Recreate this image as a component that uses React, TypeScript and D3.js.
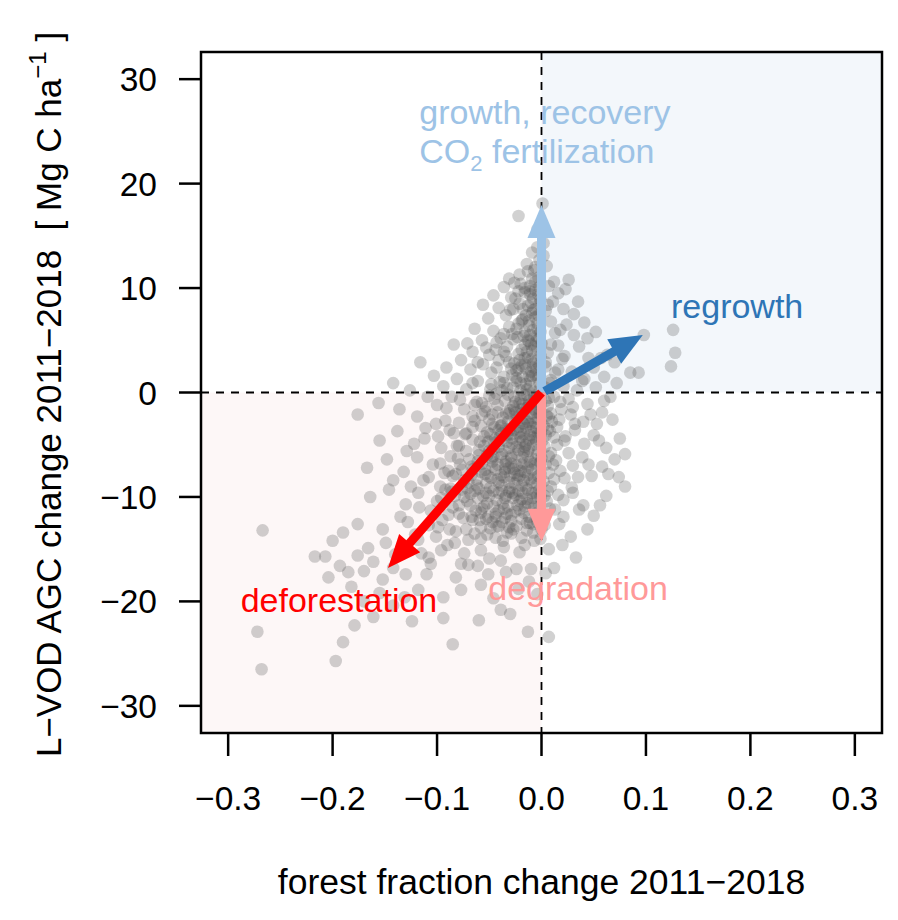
import React from "react";
import * as d3 from "d3";

// ---------- data (forest fraction change, AGC change) ----------
const plumeUpper: [number, number][] = [
  [-0.022,16.9],[0.001,18.1],[-0.004,15.6],[0.002,14.3],[-0.009,13.4],[-0.002,12.7],[0.005,12.1],[-0.013,11.6],[-0.021,11.3],[-0.031,10.9],[0.026,10.8],[-0.036,10.1],[-0.026,10.5],[-0.016,10.0],[-0.006,10.6],[0.007,10.2],[0.016,9.5],[-0.046,9.3],[-0.029,9.1],[-0.011,9.4],[-0.001,8.9],[0.011,8.7],[-0.056,8.4],[-0.041,8.1],[-0.021,8.5],[-0.008,7.9],[0.004,7.8],[0.021,8.0],[0.031,7.5],[-0.051,7.1],[-0.034,7.4],[-0.019,6.9],[-0.006,7.2],[0.009,6.8],[0.024,6.5],[0.041,6.7],[-0.064,6.1],[-0.046,5.9],[-0.031,6.3],[-0.016,5.8],[-0.004,6.1],[0.013,5.7],[0.031,5.5],[0.052,5.8],[-0.084,4.6],[-0.071,4.7],[-0.057,5.0],[-0.043,4.8],[-0.027,5.1],[-0.012,4.9],[0.0,4.7],[0.016,4.5],[0.036,4.4],[-0.066,3.9],[-0.05,3.6],[-0.036,3.9],[-0.022,3.7],[-0.009,4.0],[0.006,3.8],[0.022,3.5],[0.045,3.3],[0.063,3.6],
];
const rightOutliers: [number, number][] = [
  [0.098,5.5],[0.126,6.0],[0.128,3.8],[0.124,2.5],[0.085,1.9],[0.093,1.9],[0.07,2.9],[0.06,1.5],[0.05,2.4],
  [0.045,-6.9],[0.055,-4.6],[0.064,-7.8],[0.068,-2.6],[0.074,-8.1],[0.044,-13.1],[0.036,-11.2],[0.056,-10.8],[0.047,-2.1],[0.06,-0.8],[0.072,0.9],[0.039,1.1],[0.057,3.3],[0.044,5.2],[0.035,8.7],[0.023,9.9],
];
const midBand: [number, number][] = [
  [-0.116,2.9],[-0.142,0.9],[-0.103,1.6],[-0.091,2.4],[-0.077,3.1],[-0.126,0.2],[-0.109,-0.4],[-0.094,0.6],[-0.081,1.3],[-0.068,2.2],[-0.056,2.7],[-0.043,2.4],[-0.031,2.9],[-0.019,2.6],[-0.008,2.8],[0.004,2.5],[0.016,2.2],[0.029,2.0],[0.041,1.3],[-0.176,-2.1],[-0.156,-1.0],[-0.136,-1.6],[-0.119,-2.3],[-0.1,-1.2],[-0.086,-0.4],[-0.072,0.3],[-0.061,1.1],[-0.048,0.8],[-0.036,1.5],[-0.024,1.1],[-0.012,1.6],[-0.002,0.9],[0.009,1.2],[0.021,0.6],[0.034,0.2],[0.052,0.5],[0.066,-0.4],[-0.074,-1.6],[-0.062,-0.9],[-0.05,-0.3],[-0.038,0.2],[-0.026,-0.4],[-0.014,0.3],[-0.004,-0.2],[0.007,-0.5],[0.018,-0.9],[0.03,-1.4],[0.044,-1.1],[0.058,-1.9],[-0.092,-2.7],[-0.079,-2.9],[-0.066,-2.3],[-0.054,-1.8],[-0.042,-1.2],[-0.03,-1.7],[-0.018,-1.1],[-0.007,-1.6],[0.005,-2.2],[0.017,-2.6],[0.028,-2.1],[0.04,-2.8],[0.053,-3.0],
];
const coreLower: [number, number][] = [
  [-0.155,-4.6],[-0.138,-3.7],[-0.122,-4.9],[-0.111,-3.4],[-0.099,-4.2],[-0.088,-3.6],[-0.081,-5.1],[-0.073,-4.0],[-0.066,-3.3],[-0.059,-4.7],[-0.052,-3.8],[-0.046,-5.4],[-0.04,-4.3],[-0.034,-3.5],[-0.028,-4.9],[-0.022,-3.9],[-0.016,-5.2],[-0.011,-4.1],[-0.005,-3.4],[0.001,-4.6],[0.008,-3.7],[0.015,-5.0],[0.023,-4.2],[0.032,-3.6],[0.041,-4.9],[0.05,-4.1],[0.062,-5.3],[0.08,-5.9],[0.075,-4.4],
  [-0.167,-7.2],[-0.148,-6.4],[-0.132,-7.6],[-0.119,-6.2],[-0.108,-8.1],[-0.097,-6.8],[-0.089,-7.5],[-0.08,-6.3],[-0.074,-8.4],[-0.067,-7.1],[-0.06,-6.0],[-0.054,-7.8],[-0.047,-6.6],[-0.041,-8.6],[-0.035,-7.3],[-0.029,-6.1],[-0.023,-7.9],[-0.017,-6.8],[-0.011,-8.3],[-0.006,-7.0],[0.0,-6.3],[0.007,-7.7],[0.014,-6.5],[0.022,-8.2],[0.03,-7.0],[0.039,-6.2],[0.048,-8.0],[0.058,-7.1],[0.07,-6.4],[0.08,-9.0],
  [-0.164,-10.0],[-0.146,-9.3],[-0.13,-10.7],[-0.118,-9.6],[-0.106,-11.3],[-0.096,-10.1],[-0.087,-9.2],[-0.079,-11.6],[-0.071,-10.4],[-0.064,-9.4],[-0.057,-11.1],[-0.05,-9.9],[-0.044,-11.9],[-0.037,-10.6],[-0.031,-9.5],[-0.025,-11.4],[-0.019,-10.2],[-0.013,-9.3],[-0.007,-11.0],[-0.001,-10.0],[0.006,-9.4],[0.013,-11.2],[0.021,-10.3],[0.03,-9.6],[0.04,-10.8],[0.05,-11.8],[0.062,-9.9],
];
const tailMid: [number, number][] = [
  [-0.19,-13.4],[-0.2,-14.2],[-0.176,-12.6],[-0.166,-14.9],[-0.152,-13.1],[-0.14,-15.5],[-0.128,-12.4],[-0.118,-14.1],[-0.108,-15.8],[-0.099,-12.9],[-0.09,-14.6],[-0.082,-13.3],[-0.074,-15.4],[-0.066,-12.2],[-0.058,-14.0],[-0.05,-15.9],[-0.043,-12.8],[-0.036,-14.8],[-0.029,-13.5],[-0.021,-15.3],[-0.014,-12.5],[-0.007,-14.2],[0.0,-13.1],[0.007,-15.0],[0.017,-12.6],[0.028,-13.8],
  [-0.217,-15.7],[-0.207,-15.7],[-0.204,-17.7],[-0.193,-16.6],[-0.182,-18.6],[-0.17,-17.1],[-0.155,-19.2],[-0.142,-16.8],[-0.13,-17.4],[-0.118,-18.9],[-0.106,-16.4],[-0.094,-19.6],[-0.082,-17.7],[-0.07,-16.5],[-0.058,-18.4],[-0.046,-19.7],[-0.034,-17.2],[-0.022,-18.8],[-0.01,-16.9],[-0.004,-19.3],
];
const tailFar: [number, number][] = [
  [-0.267,-13.2],[-0.272,-22.9],[-0.268,-26.5],[-0.19,-23.9],[-0.197,-25.7],[-0.179,-22.3],[-0.161,-21.5],[-0.124,-21.9],[-0.085,-24.1],[-0.094,-21.6],[-0.03,-21.2],[0.007,-23.4],[-0.013,-22.9],[-0.039,-20.8],[-0.142,-20.4],[-0.17,-20.0],[-0.06,-21.8],
];
const denseCore: [number, number][] = [
  [-0.005,3.0],[-0.01,2.0],[-0.003,1.4],[-0.015,0.8],[-0.008,0.1],[-0.02,-0.6],[-0.012,-1.2],[-0.004,-0.9],[-0.025,-1.9],[-0.016,-2.5],[-0.006,-2.9],[-0.032,-2.8],[-0.022,-3.3],[-0.01,-3.7],[-0.002,-2.0],[-0.038,-3.9],[-0.028,-4.4],[-0.018,-4.6],[-0.008,-5.0],[-0.045,-4.8],[-0.035,-5.6],[-0.024,-5.9],[-0.013,-6.1],[-0.003,-5.5],[-0.052,-6.0],[-0.042,-6.9],[-0.031,-7.2],[-0.02,-7.5],[-0.009,-7.4],[-0.058,-7.6],[-0.048,-8.2],[-0.038,-8.9],[-0.026,-8.7],[-0.015,-9.1],[-0.004,-8.8],[-0.062,-8.9],[-0.053,-9.6],[-0.043,-10.3],[-0.032,-10.9],[-0.021,-10.4],[-0.01,-10.7],[0.002,-11.8],[-0.068,-10.8],[-0.058,-11.5],[-0.047,-12.4],[-0.035,-12.0],[-0.024,-12.8],[-0.012,-11.9],[-0.075,-12.0],[-0.085,-11.0],[-0.095,-12.2],[-0.064,-13.5],[-0.008,2.4],[-0.013,3.4],[-0.004,4.2],[-0.018,1.5],[-0.027,0.5],[-0.035,-0.8],[-0.042,-1.9],[-0.05,-2.6],[-0.058,-3.2],[-0.066,-4.5],[-0.072,-5.6],[-0.078,-6.9],[-0.085,-8.0],[-0.092,-9.3],[-0.1,-10.4],[0.003,0.5],[0.006,-1.3],[0.01,-2.8],[0.012,-4.3],[0.009,-5.8],[0.004,-6.9],[0.012,-8.3],[0.016,-9.8],[0.002,-3.2],[-0.001,-7.8],[0.005,-10.4],
];
const coreExtra: [number, number][] = [
  [-0.047,-2.1],[-0.039,-3.2],[-0.027,-1.3],[-0.019,-2.0],[-0.033,-4.1],[-0.041,-5.2],[-0.029,-6.3],[-0.017,-5.7],[-0.011,-6.6],[-0.044,-7.4],[-0.036,-8.1],[-0.023,-8.3],[-0.013,-7.9],[-0.053,-8.7],[-0.046,-9.4],[-0.034,-9.9],[-0.027,-10.1],[-0.016,-10.9],[-0.006,-9.6],[-0.061,-10.1],[-0.052,-10.6],[-0.041,-11.3],[-0.029,-11.7],[-0.019,-12.1],[-0.008,-12.6],[-0.071,-9.2],[-0.067,-7.9],[-0.061,-6.6],[-0.055,-5.1],[-0.049,-4.0],[-0.057,-2.1],[-0.064,-1.2],[-0.045,-0.6],[-0.033,0.4],[-0.024,1.4],[-0.029,2.3],[-0.021,3.1],[-0.016,2.7],[-0.009,1.6],[-0.006,-0.6],[-0.014,-0.2],[-0.021,-1.0],[-0.009,-2.0],[-0.015,-3.4],[-0.025,-2.7],[-0.037,-2.4],[-0.031,-3.6],[-0.021,-4.8],[-0.012,-4.5],[-0.004,-5.9],[-0.007,-6.8],[-0.019,-6.9],[-0.026,-7.7],[-0.034,-6.6],[-0.039,-7.9],[-0.017,-8.4],[-0.009,-9.6],[-0.002,-10.9],[-0.022,-9.4],[-0.031,-8.6],[-0.076,-7.4],[-0.083,-9.9],[-0.089,-11.7],[-0.072,-13.1],[-0.058,-12.9],[-0.044,-13.9],[-0.031,-12.9],[-0.019,-13.9],[-0.008,-13.4],[-0.051,-11.9],[-0.038,-12.4],[0.003,-12.7],[0.008,-11.1],[0.011,-6.9],[0.004,-4.1],[0.015,-3.3],[0.007,-2.4],[0.012,-0.4],[0.019,-1.6],[0.022,-4.6],[0.018,-7.5],[0.026,-5.8],[0.029,-9.1],[0.021,-11.9],[0.035,-8.1],[0.032,-3.0],[0.026,-0.6],[0.013,1.9],[0.02,3.2],[0.009,4.6],[0.018,6.0],[0.006,8.4],[0.012,10.6],[0.002,13.1],[-0.006,12.0],[-0.014,12.3],[-0.011,10.2],[-0.022,9.7],[-0.027,8.0],[-0.015,7.4],[-0.024,6.1],[-0.036,5.6],[-0.041,3.1],[-0.033,4.4],[-0.053,4.3],[-0.061,2.9],[-0.048,1.9],[-0.066,0.9],[-0.078,-0.7],[-0.091,-1.5],[-0.084,-3.9],[-0.096,-5.3],[-0.104,-6.9],[-0.113,-8.4],[-0.125,-9.0],[-0.117,-11.0],[-0.108,-12.7],[-0.121,-13.6],[-0.135,-11.9],[-0.142,-8.4],[-0.129,-5.6],[-0.112,-4.4],[-0.101,-3.0],[-0.087,-6.1],[-0.093,-7.7],[-0.097,-9.0],[-0.079,-10.8],[-0.067,-11.9],[-0.083,-14.4],[-0.096,-15.1],[-0.11,-17.4],[-0.061,-16.6],[-0.039,-16.1],[-0.024,-16.9],[-0.012,-18.1],[0.004,-17.3],[-0.051,-17.4],[-0.077,-18.9],[-0.131,-19.6],[-0.152,-17.9],[-0.161,-16.2],[-0.149,-14.4],[-0.176,-15.6],[-0.185,-17.2],[0.02,-14.6],[0.012,-16.8],[0.033,-15.8],
];
const coreDense2: [number, number][] = [
  [-0.002,10.1],[-0.007,11.7],[-0.004,13.9],[-0.01,8.6],[-0.003,7.4],[-0.008,6.0],[-0.001,5.8],[-0.013,5.0],[-0.005,4.9],[-0.009,3.2],[-0.002,2.6],[-0.015,2.3],[-0.006,1.7],[-0.011,0.6],[-0.001,-0.5],[-0.017,-0.2],[-0.009,-1.0],[-0.004,-2.5],[-0.019,-1.6],[-0.013,-2.8],[-0.023,-2.4],[-0.008,-3.3],[-0.027,-3.6],[-0.017,-4.0],[-0.005,-4.7],[-0.033,-4.7],[-0.024,-5.2],[-0.013,-5.6],[-0.039,-6.2],[-0.029,-6.8],[-0.018,-6.2],[-0.006,-6.4],[-0.047,-7.1],[-0.035,-7.6],[-0.024,-7.0],[-0.013,-7.2],[-0.003,-8.0],[-0.051,-8.0],[-0.041,-9.6],[-0.03,-9.2],[-0.019,-8.9],[-0.009,-8.6],[-0.056,-9.9],[-0.046,-10.9],[-0.036,-11.1],[-0.025,-9.8],[-0.014,-10.2],[-0.004,-9.9],[-0.063,-11.3],[-0.053,-12.1],[-0.041,-12.8],[-0.029,-12.3],[-0.017,-11.5],[-0.006,-11.6],[-0.068,-9.7],[-0.062,-8.3],[-0.057,-6.8],[-0.05,-5.6],[-0.044,-4.4],[-0.038,-3.1],[-0.031,-2.0],[-0.025,-0.9],[-0.02,0.9],[-0.026,2.8],[-0.019,4.1],[-0.023,5.3],[-0.018,7.0],[-0.013,8.3],[-0.016,9.6],[-0.009,10.9],[0.004,2.9],[0.008,0.9],[0.004,-0.8],[0.009,-2.0],[0.006,-3.5],[0.003,-5.2],[0.007,-6.1],[0.002,-8.5],[0.009,-9.0],[0.003,-9.9],[-0.072,-3.9],[-0.079,-5.1],[-0.069,-6.4],[-0.082,-7.8],[-0.074,-10.0],[-0.086,-9.5],[-0.064,-2.7],[-0.057,-1.0],[-0.049,0.3],[-0.04,1.0],[-0.032,-0.2],[-0.045,-3.3],[-0.055,-4.2],[-0.035,-10.1],[-0.048,-6.3],[-0.021,-11.2],[-0.011,-12.5],[-0.033,-13.4],[-0.052,-13.6],[-0.07,-14.1],
];
const coreDense3: [number, number][] = [
  [-0.001,-1.2],[-0.005,-1.9],[-0.012,-0.8],[-0.018,-2.9],[-0.026,-1.6],[-0.034,-2.0],[-0.041,-3.6],[-0.029,-4.0],[-0.02,-3.7],[-0.011,-3.0],[-0.003,-3.9],[-0.008,-4.3],[-0.015,-5.0],[-0.022,-5.5],[-0.031,-5.3],[-0.038,-5.9],[-0.046,-6.1],[-0.035,-6.9],[-0.027,-7.3],[-0.016,-7.6],[-0.007,-8.2],[-0.001,-6.7],[-0.021,-8.0],[-0.03,-8.0],[-0.042,-8.3],[-0.049,-9.1],[-0.038,-9.4],[-0.028,-9.6],[-0.018,-9.6],[-0.008,-10.1],[-0.002,-9.3],[-0.013,-10.6],[-0.023,-10.8],[-0.033,-11.6],[-0.044,-11.6],[-0.055,-10.9],[-0.06,-9.2],[-0.054,-7.4],[-0.06,-5.5],[-0.051,-4.7],[-0.047,-3.0],[-0.053,-1.4],[-0.043,-0.1],[-0.036,0.9],[-0.028,1.7],[-0.022,2.3],[-0.016,3.3],[-0.01,4.6],[-0.005,5.4],[-0.012,6.9],[-0.006,8.0],[-0.003,9.4],[-0.011,9.7],[-0.02,10.4],[-0.025,9.0],[-0.03,7.9],[-0.022,6.6],[-0.028,5.6],[-0.034,3.5],[-0.044,4.1],[-0.039,5.2],[-0.017,5.4],[-0.02,-4.3],[-0.039,-4.6],[-0.065,-7.3],[-0.07,-8.6],[-0.076,-9.3],[-0.059,-12.2],[-0.049,-13.0],[-0.027,-13.1],[-0.014,-13.2],[-0.004,-12.4],[-0.001,-14.0],[-0.016,-14.6],[-0.037,-14.2],[-0.058,-15.1],[-0.077,-16.4],[-0.088,-13.1],[-0.101,-13.8],[-0.115,-15.4],
];
const axisStrip: [number, number][] = [
  [-0.003,11.0],[-0.006,9.8],[-0.002,8.5],[-0.009,7.6],[-0.004,6.6],[-0.011,5.5],[-0.002,5.2],[-0.007,4.4],[-0.014,3.9],[-0.001,3.5],[-0.005,2.2],[-0.011,1.2],[-0.002,0.3],[-0.007,-0.4],[-0.014,-1.5],[-0.003,-1.5],[-0.009,-2.4],[-0.001,-3.9],[-0.006,-4.4],[-0.012,-5.4],[-0.017,-3.0],[-0.02,0.2],[-0.024,2.1],[-0.016,4.6],[-0.012,6.4],[-0.018,8.0],[-0.008,9.0],
];

// arrows: [x0, y0, x1, y1]
const arrowGrowth: [number, number, number, number] = [0, 0, 0, 17.95];
const arrowDegradation: [number, number, number, number] = [0, 0, 0, -14.3];
const arrowDeforestation: [number, number, number, number] = [0, 0, -0.147, -16.8];
const arrowRegrowth: [number, number, number, number] = [0.003, 0.1, 0.097, 5.5];

const xTicks = [-0.3, -0.2, -0.1, 0.0, 0.1, 0.2, 0.3];
const yTicks = [-30, -20, -10, 0, 10, 20, 30];
const xTickLabels = ["\u22120.3", "\u22120.2", "\u22120.1", "0.0", "0.1", "0.2", "0.3"];
const yTickLabels = ["\u221230", "\u221220", "\u221210", "0", "10", "20", "30"];

const FONT = "'Liberation Sans', Arial, Helvetica, sans-serif";

export default function App() {
  const W = 898, H = 920;
  const L = 201, R = 882, T = 52, B = 733;
  const x = d3.scaleLinear().domain([-0.326, 0.326]).range([L, R]);
  const y = d3.scaleLinear().domain([-32.6, 32.6]).range([B, T]);

  const points = [...plumeUpper, ...rightOutliers, ...midBand, ...coreLower, ...tailMid, ...tailFar, ...denseCore, ...coreExtra, ...coreDense2, ...coreDense3, ...axisStrip];

  const arrow = (a: [number, number, number, number], color: string, key: string) => {
    const x0 = x(a[0]), y0 = y(a[1]), x1 = x(a[2]), y1 = y(a[3]);
    const dx = x1 - x0, dy = y1 - y0;
    const len = Math.hypot(dx, dy);
    const ux = dx / len, uy = dy / len;
    const headLen = 33, headHalf = 14;
    const bx = x1 - ux * headLen, by = y1 - uy * headLen;
    const px = -uy, py = ux;
    const pts = [
      [x1, y1],
      [bx + px * headHalf, by + py * headHalf],
      [bx - px * headHalf, by - py * headHalf],
    ];
    const line = d3.line();
    return (
      <g key={key}>
        <line x1={x0} y1={y0} x2={bx + ux * 2} y2={by + uy * 2} stroke={color} strokeWidth={9} strokeLinecap="butt" />
        <path d={line(pts as [number, number][]) + "Z"} fill={color} />
      </g>
    );
  };

  const annoStyle = { fontFamily: FONT, fontSize: 34 } as const;

  return (
    <svg width={W} height={H} style={{ position: "absolute", left: 0, top: 0, background: "#fff" }}>
      {/* quadrant shading */}
      <rect x={x(0)} y={T} width={R - x(0)} height={y(0) - T} fill="#F3F7FB" />
      <rect x={L} y={y(0)} width={x(0) - L} height={B - y(0)} fill="#FDF7F7" />

      {/* dashed zero lines */}
      <line x1={x(0)} x2={x(0)} y1={T} y2={B} stroke="#000" strokeWidth={1.8} strokeDasharray="8,7" />
      <line x1={L} x2={R} y1={y(0)} y2={y(0)} stroke="#000" strokeWidth={1.8} strokeDasharray="8,7" />

      {/* points */}
      <g>
        {points.map((p, i) => (
          <circle key={i} cx={x(p[0])} cy={y(p[1])} r={6.3} fill="#555" fillOpacity={0.27} />
        ))}
      </g>

      {/* arrows */}
      {arrow(arrowGrowth, "#9DC3E6", "g")}
      {arrow(arrowDegradation, "#FF9999", "d")}
      {arrow(arrowDeforestation, "#FF0000", "f")}
      {arrow(arrowRegrowth, "#2E75B6", "r")}

      {/* annotations */}
      <text x={x(-0.117)} y={y(25.7)} fill="#9DC3E6" style={annoStyle}>growth, recovery</text>
      <text x={x(-0.117)} y={y(22.0)} fill="#9DC3E6" style={annoStyle}>
        CO<tspan fontSize={22} dy={8}>2</tspan><tspan dy={-8}> fertilization</tspan>
      </text>
      <text x={x(0.124)} y={y(7.13)} fill="#2E75B6" style={annoStyle}>regrowth</text>
      <text x={x(-0.288)} y={y(-21.0)} fill="#FF0000" style={annoStyle}>deforestation</text>
      <text x={x(-0.051)} y={y(-19.9)} fill="#FF9999" style={annoStyle}>degradation</text>

      {/* box */}
      <rect x={L} y={T} width={R - L} height={B - T} fill="none" stroke="#000" strokeWidth={2.5} />

      {/* x axis */}
      {xTicks.map((t, i) => (
        <g key={"xt" + i}>
          <line x1={x(t)} x2={x(t)} y1={B} y2={B + 23} stroke="#000" strokeWidth={2.5} />
          <text x={x(t)} y={810} textAnchor="middle" style={{ fontFamily: FONT, fontSize: 33.5 }}>{xTickLabels[i]}</text>
        </g>
      ))}
      {/* y axis */}
      {yTicks.map((t, i) => (
        <g key={"yt" + i}>
          <line x1={L - 22} x2={L} y1={y(t)} y2={y(t)} stroke="#000" strokeWidth={2.5} />
          <text x={157} y={y(t)} dy="0.36em" textAnchor="end" style={{ fontFamily: FONT, fontSize: 33.5 }}>{yTickLabels[i]}</text>
        </g>
      ))}

      {/* axis titles */}
      <text x={(L + R) / 2} y={894} textAnchor="middle" style={{ fontFamily: FONT, fontSize: 35.5 }}>
        forest fraction change 2011{"\u2212"}2018
      </text>
      <text transform={`translate(61,${(T + B) / 2 + 2}) rotate(-90)`} textAnchor="middle" style={{ fontFamily: FONT, fontSize: 35 }}>
        {"L\u2212VOD AGC change 2011\u22122018\u00A0\u00A0[\u00A0Mg C ha"}<tspan fontSize={24} dy={-15}>{"\u22121"}</tspan><tspan dy={15}>{"\u00A0]"}</tspan>
      </text>
    </svg>
  );
}
